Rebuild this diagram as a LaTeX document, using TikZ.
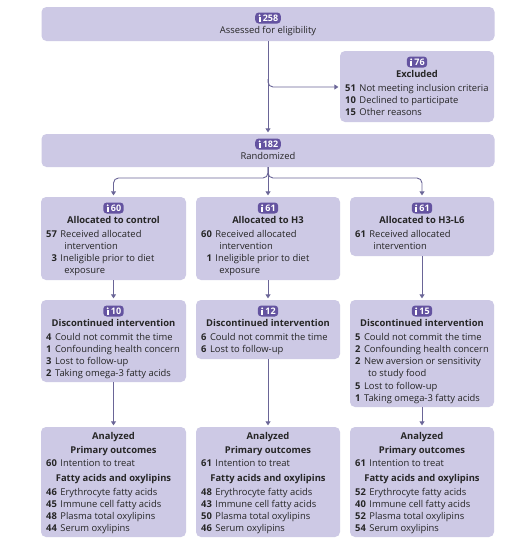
\documentclass[tikz,border=0pt]{standalone}
\usepackage{fontspec}
\setmainfont{Open Sans}
\usetikzlibrary{arrows.meta}
\definecolor{boxfill}{HTML}{CDC9E5}
\definecolor{badgec}{HTML}{6453A0}
\definecolor{arrc}{HTML}{6A6597}
\definecolor{txt}{HTML}{262626}
\newcommand\numlist[1]{\begin{tabular}[t]{@{}r@{\hspace{3.5pt}}l@{}}#1\end{tabular}}
\newcommand\cont{\hspace{4pt}}
\newcommand\badge[3]{%
  \node[badge] (#1) at (#2) {\hspace{5pt}#3};
  \fill[white] ([xshift=4.6pt,yshift=2.7pt]#1.west) circle (1.05pt);
  \fill[white] ([xshift=3.6pt,yshift=1.2pt]#1.west) rectangle ([xshift=5.6pt,yshift=-4pt]#1.west);
}
\begin{document}
\begin{tikzpicture}[x=1pt,y=-1pt,
  box/.style={fill=boxfill, rounded corners=5pt, inner sep=0pt},
  badge/.style={fill=badgec, text=white, rounded corners=3.5pt, inner xsep=2.6pt, inner ysep=0pt, minimum height=11pt, font=\fontsize{9}{9}\selectfont\bfseries},
  ttl/.style={font=\fontsize{9.4}{12.3}\selectfont\bfseries, text=txt, inner sep=0pt, text height=6.8pt, text depth=2pt},
  reg/.style={font=\fontsize{9.4}{12.3}\selectfont, text=txt, inner sep=0pt, text height=6.8pt, text depth=2pt},
  lst/.style={font=\fontsize{9.4}{12.3}\selectfont, text=txt, inner sep=0pt, anchor=base west},
  arr/.style={draw=arrc, line width=0.9pt, -{Triangle[width=5pt,length=4pt]}, shorten >=1.5pt},
]
\useasboundingbox[fill=white] (0,0) rectangle (528,544);

% boxes
\node[box, minimum width=453pt, minimum height=34pt] (b1) at (268,24) {};
\node[box, minimum width=154pt, minimum height=71pt] (ex) at (417,86.5) {};
\node[box, minimum width=453pt, minimum height=33pt] (rnd) at (268,150.5) {};
\node[box, minimum width=145pt, minimum height=83pt] (a1) at (113.5,238.5) {};
\node[box, minimum width=144pt, minimum height=83pt] (a2) at (268,238.5) {};
\node[box, minimum width=144pt, minimum height=59pt] (a3) at (422,226.5) {};
\node[box, minimum width=145pt, minimum height=82pt] (d1) at (113.5,341) {};
\node[box, minimum width=144pt, minimum height=59pt] (d2) at (268,329.5) {};
\node[box, minimum width=144pt, minimum height=107pt] (d3) at (422,353.5) {};
\node[box, minimum width=145pt, minimum height=110pt] (n1) at (113.5,482) {};
\node[box, minimum width=144pt, minimum height=110pt] (n2) at (268,482) {};
\node[box, minimum width=144pt, minimum height=110pt] (n3) at (422,482) {};

% connectors
\coordinate (y80) at (0,79);
\coordinate (y87) at (0,87);
\coordinate (y178) at (0,178);
\draw[arr] (b1.south) -- (b1.south |- rnd.north);
\draw[arr, rounded corners=5pt] (b1.south |- y80) -- (b1.south |- y87) -- (ex.west |- y87);
\draw[arr] (rnd.south) -- (rnd.south |- a2.north);
\draw[arr, rounded corners=5pt] (rnd.south) -- (rnd.south |- y178) -- (a1.north |- y178) -- (a1.north);
\draw[arr, rounded corners=5pt] (rnd.south) -- (rnd.south |- y178) -- (a3.north |- y178) -- (a3.north);
\draw[arr] (a1.south) -- (d1.north);
\draw[arr] (a2.south) -- (d2.north);
\draw[arr] (a3.south) -- (d3.north);
\draw[arr] (d1.south) -- (n1.north);
\draw[arr] (d2.south) -- (n2.north);
\draw[arr] (d3.south) -- (n3.north);

% top
\badge{bg1}{268,18}{258}
\node[reg] (t1) at (268,31) {Assessed for eligibility};
\badge{bgx}{417,62}{76}
\node[ttl] (tx) at (417,75) {Excluded};
\node[lst] (lx) at (345,91) {\numlist{\textbf{51} & Not meeting inclusion criteria\\ \textbf{10} & Declined to participate\\ \textbf{15} & Other reasons}};
\badge{bgr}{268,144}{182}
\node[reg] (tr) at (268,157) {Randomized};

% allocation
\badge{bga1}{113.5,208}{60}
\node[ttl] (ta1) at (113.5,221) {Allocated to control};
\node[lst] (la1) at (46,237) {\numlist{\textbf{57} & Received allocated\\ & \cont intervention\\ \textbf{3} & Ineligible prior to diet\\ & \cont exposure}};
\badge{bga2}{268,208}{61}
\node[ttl] (ta2) at (268,221) {Allocated to H3};
\node[lst] (la2) at (201,237) {\numlist{\textbf{60} & Received allocated\\ & \cont intervention\\ \textbf{1} & Ineligible prior to diet\\ & \cont exposure}};
\badge{bga3}{422,208}{61}
\node[ttl] (ta3) at (422,221) {Allocated to H3-L6};
\node[lst] (la3) at (355,237) {\numlist{\textbf{61} & Received allocated\\ & \cont intervention}};

% discontinued
\badge{bgd1}{113.5,311}{10}
\node[ttl] (td1) at (113.5,324) {Discontinued intervention};
\node[lst] (ld1) at (46,340) {\numlist{\textbf{4} & Could not commit the time\\ \textbf{1} & Confounding health concern\\ \textbf{3} & Lost to follow-up\\ \textbf{2} & Taking omega-3 fatty acids}};
\badge{bgd2}{268,311}{12}
\node[ttl] (td2) at (268,324) {Discontinued intervention};
\node[lst] (ld2) at (201,340) {\numlist{\textbf{6} & Could not commit the time\\ \textbf{6} & Lost to follow-up}};
\badge{bgd3}{422,311}{15}
\node[ttl] (td3) at (422,324) {Discontinued intervention};
\node[lst] (ld3) at (355,340) {\numlist{\textbf{5} & Could not commit the time\\ \textbf{2} & Confounding health concern\\ \textbf{2} & New aversion or sensitivity\\ & \cont to study food\\ \textbf{5} & Lost to follow-up\\ \textbf{1} & Taking omega-3 fatty acids}};

% analyzed
\node[ttl] (tn1a) at (113.5,437) {Analyzed};
\node[ttl] (tn1b) at (113.5,451) {Primary outcomes};
\node[lst] (ln1a) at (46,466) {\numlist{\textbf{60} & Intention to treat}};
\node[ttl] (tn1c) at (113.5,479) {Fatty acids and oxylipins};
\node[lst] (ln1b) at (46,495) {\numlist{\textbf{46} & Erythrocyte fatty acids\\ \textbf{45} & Immune cell fatty acids\\ \textbf{48} & Plasma total oxylipins\\ \textbf{44} & Serum oxylipins}};

\node[ttl] (tn2a) at (268,437) {Analyzed};
\node[ttl] (tn2b) at (268,451) {Primary outcomes};
\node[lst] (ln2a) at (201,466) {\numlist{\textbf{61} & Intention to treat}};
\node[ttl] (tn2c) at (268,479) {Fatty acids and oxylipins};
\node[lst] (ln2b) at (201,495) {\numlist{\textbf{48} & Erythrocyte fatty acids\\ \textbf{43} & Immune cell fatty acids\\ \textbf{50} & Plasma total oxylipins\\ \textbf{46} & Serum oxylipins}};

\node[ttl] (tn3a) at (422,437) {Analyzed};
\node[ttl] (tn3b) at (422,451) {Primary outcomes};
\node[lst] (ln3a) at (355,466) {\numlist{\textbf{61} & Intention to treat}};
\node[ttl] (tn3c) at (422,479) {Fatty acids and oxylipins};
\node[lst] (ln3b) at (355,495) {\numlist{\textbf{52} & Erythrocyte fatty acids\\ \textbf{40} & Immune cell fatty acids\\ \textbf{52} & Plasma total oxylipins\\ \textbf{54} & Serum oxylipins}};
\end{tikzpicture}
\end{document}
